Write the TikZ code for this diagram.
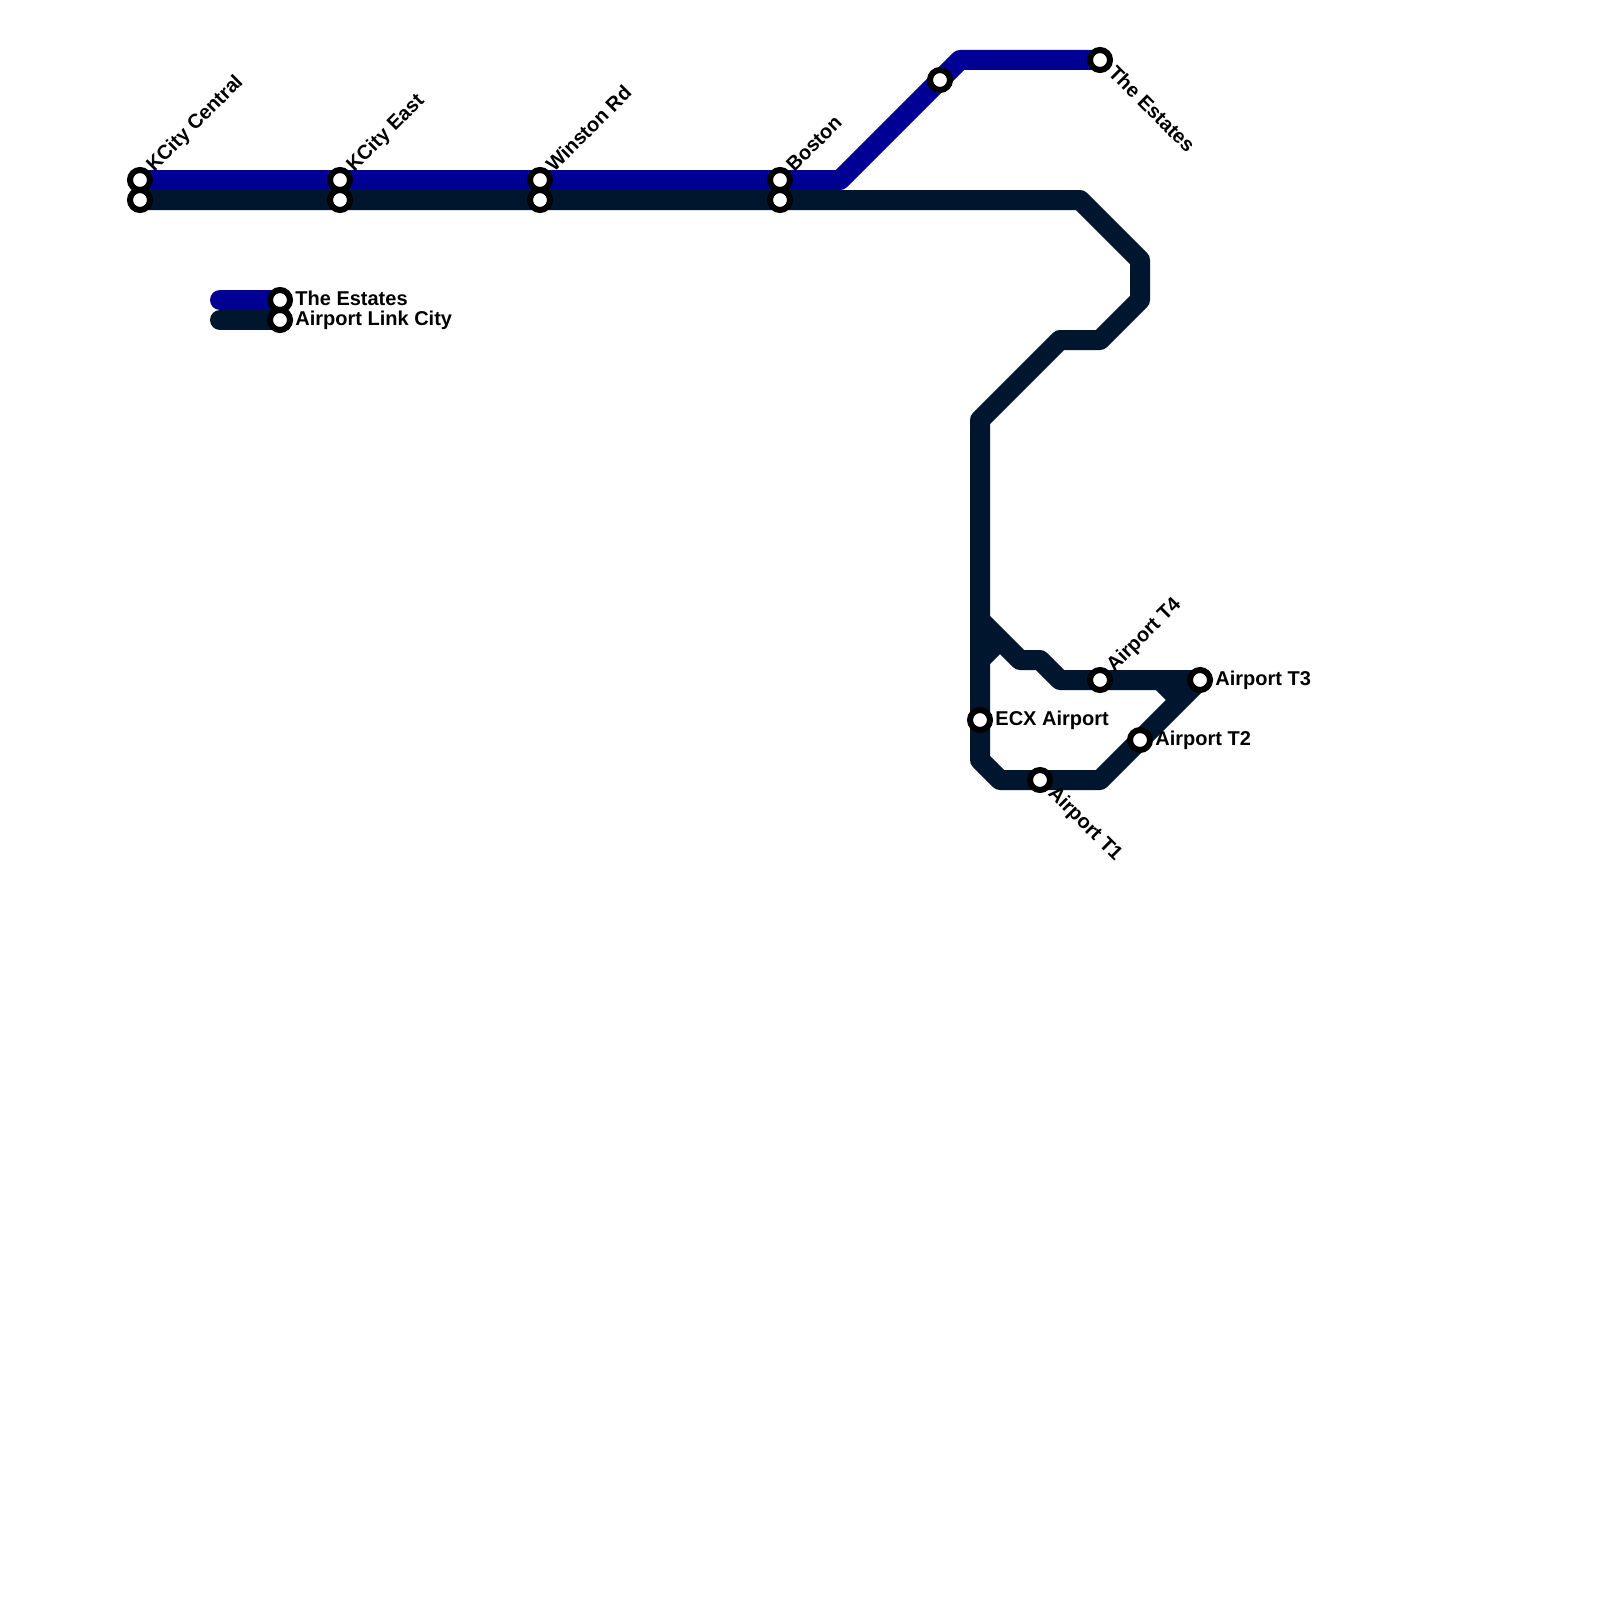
\documentclass[tikz,border=0pt]{standalone}
\usepackage{fontspec}
\setmainfont{Liberation Sans}
\usepackage{xcolor}
\usetikzlibrary{positioning,calc}
\definecolor{estates}{HTML}{000094}
\definecolor{airlink}{HTML}{00162E}
\tikzset{
  routeline/.style={line width=10pt, line join=round},
  station/.style={circle, draw=black, fill=white, line width=3pt, minimum size=10pt, inner sep=0pt, outer sep=0pt},
  stationlabel/.style={font=\bfseries\fontsize{10pt}{12pt}\selectfont, inner sep=0pt, anchor=base west},
}

\begin{document}
\begin{tikzpicture}[x=0.5pt, y=-0.5pt]
\useasboundingbox (0,0) rectangle (1600,1600);
% ---------- stops and bends, on the 20 unit grid
\foreach \n/\x/\y in {kca/140/180, kea/340/180, wra/540/180, boa/780/180, bendA/840/180,
    midE/940/80, bendB/960/60, est/1100/60, kcb/140/200, keb/340/200, wrb/540/200, bob/780/200,
    bendC/1080/200, bendD/1140/260, bendE/1140/300, bendF/1100/340, bendG/1060/340, bendH/980/420,
    ecx/980/720, bendI/980/760, bendJ/1000/780, tone/1040/780, bendK/1100/780, ttwo/1140/740,
    bendL/1180/700, bendM/1160/680, tthree/1200/680, tfour/1100/680, bendN/1060/680, bendO/1040/660,
    bendP/1020/660, bendQ/980/620, bendR/980/660, bendS/1000/640,
    keyA/220/300, keyB/280/300, keyC/220/320, keyD/280/320}
  \coordinate (\n) at (\x,\y);

% ---------- the two routes
\draw[routeline, estates] (kca) -- (kea) -- (wra) -- (boa) -- (bendA) -- (midE) -- (bendB) -- (est);
\draw[routeline, airlink] (kcb) -- (keb) -- (wrb) -- (bob) -- (bendC) -- (bendD) -- (bendE) -- (bendF)
  -- (bendG) -- (bendH) -- (ecx) -- (bendI) -- (bendJ) -- (tone) -- (bendK) -- (ttwo) -- (tthree)
  -- (tfour) -- (bendN) -- (bendO) -- (bendP) -- (bendQ);
\draw[routeline, airlink] (bendM) -- (bendL);
\draw[routeline, airlink] (bendR) -- (bendS);

% ---------- key
\draw[routeline, estates, line cap=round] (keyA) -- (keyB);
\draw[routeline, airlink, line cap=round] (keyC) -- (keyD);

% ---------- station circles
\foreach \n in {kca, kcb, kea, keb, wra, wrb, boa, bob, midE, est, ecx, tone, ttwo, tthree, tfour, keyB, keyD}
  \node[station] (st\n) at (\n) {};

% ---------- labels
\node[stationlabel, rotate=45] (lkc) at ($(kca)+(14,-7)$) {KCity Central};
\node[stationlabel, rotate=45] (lke) at ($(kea)+(14,-7)$) {KCity East};
\node[stationlabel, rotate=45] (lwr) at ($(wra)+(14,-7)$) {Winston Rd};
\node[stationlabel, rotate=45] (lbo) at ($(boa)+(14,-7)$) {Boston};
\node[stationlabel, rotate=45] (lt4) at ($(tfour)+(14,-7)$) {Airport T4};
\node[stationlabel, rotate=-45] (les) at ($(est)+(7,14)$) {The Estates};
\node[stationlabel, rotate=-45] (lt1) at ($(tone)+(7,14)$) {Airport T1};
\node[stationlabel] (lecx) at ($(ecx)+(15,5)$) {ECX Airport};
\node[stationlabel] (lt3) at ($(tthree)+(15,5)$) {Airport T3};
\node[stationlabel] (lt2) at ($(ttwo)+(15,5)$) {Airport T2};
\node[stationlabel] (lkeya) at ($(keyB)+(15,5)$) {The Estates};
\node[stationlabel] (lkeyb) at ($(keyD)+(15,5)$) {Airport Link City};
\end{tikzpicture}
\end{document}
